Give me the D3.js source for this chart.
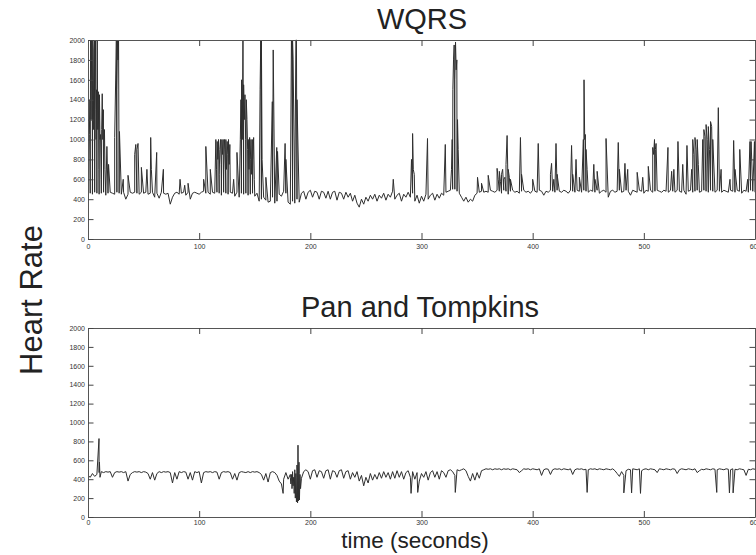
<!DOCTYPE html>
<html>
<head>
<meta charset="utf-8">
<script src="https://cdn.jsdelivr.net/npm/d3@7"></script>
<style>
  html, body { margin: 0; padding: 0; background: #fff; }
  svg { display: block; }
  .tick text { font-family: "Liberation Sans", Arial, sans-serif; font-size: 7px; fill: #333; }
  .tick line { stroke: #444; }
  .domain { stroke: #555; }
</style>
</head>
<body>
<svg id="chart" width="756" height="555"></svg>
<script>
// ---------------- DATA ----------------
const xTicks = [0, 100, 200, 300, 400, 500, 600];
const yTicks = [0, 200, 400, 600, 800, 1000, 1200, 1400, 1600, 1800, 2000];
const baseStep = 2; // seconds between baseline readings

// WQRS baseline heart-rate readings every 2 s (t = 0 .. 600)
const wqrsBase = [
430,460,450,470,460,450,460,470,440,460,470,460,450,470,460,450,470,400,450,470,
460,470,460,450,470,460,470,450,460,470,420,460,410,470,460,450,460,350,420,460,
470,450,460,470,440,470,400,460,470,460,450,470,480,460,470,450,470,460,470,460,
440,470,460,450,470,460,430,470,420,460,450,460,440,450,460,430,460,380,400,420,
390,370,380,420,360,380,450,430,480,460,370,350,380,360,400,370,
460,480,400,470,490,420,480,470,400,480,470,410,480,400,470,480,390,470,460,400,
470,420,460,380,440,360,320,400,350,420,380,440,400,450,380,440,410,460,390,450,
420,480,400,440,460,380,450,420,470,420,460,380,440,360,
430,380,450,400,440,460,390,450,410,460,440,470,480,490,500,500,480,460,420,380,
420,370,400,380,440,460,
470,480,470,480,470,490,480,470,490,480,460,490,480,450,480,490,470,480,460,480,
490,470,480,460,490,480,470,490,480,440,480,470,490,480,470,490,480,470,490,480,
460,490,480,470,490,480,470,490,480,470,490,480,470,490,460,480,490,470,420,480,
490,470,480,490,470,480,490,480,440,490,480,470,490,480,460,490,480,490,470,480,
490,480,470,490,480,470,490,480,470,490,480,470,490,450,480,490,470,480,490,470,
480,490,480,470,490,480,470,490,480,470,490,480,470,490,480,470,490,480,460,490,
480,470,490,480,470
];

// WQRS spurious detections: [time (s), heart rate]
const wqrsSpikes = [
[0.5,900],[1,1400],[1.5,1050],[2.3,2000],[2.8,1200],[3.3,2000],[3.8,1500],[4.3,2000],[4.8,1100],
[5.3,1900],[5.8,2000],[6.3,1300],[6.8,2000],[7.3,1000],[7.8,1500],[8.3,2000],[8.8,1100],[9.3,1480],
[9.8,700],[10.3,1450],[10.8,1000],[11.3,1050],[11.8,600],[12.3,1100],[12.8,1460],[13.3,1000],
[13.8,1300],[14.3,900],[14.8,1100],[15.3,700],[17,930],[18.5,750],[24,1020],[25.5,2000],[26,1500],
[26.5,2000],[27,1800],[27.5,2000],[28.3,1080],[31.7,600],[36,640],[42,850],[43,950],[44,900],[45,960],
[48,720],[53,700],[56.4,1020],[57,700],[61.8,870],[67.8,700],[82.8,600],[87,540],[90,560],[104,600],
[106,930],[110,700],
[115,1000],[115.6,700],[116.2,980],[116.8,800],[117.4,1000],[118,650],[118.6,900],[119.2,1000],
[119.8,750],[120.4,1000],[121,850],[121.6,1000],[122.2,700],[122.8,1000],[123.4,900],[124,1000],
[124.6,700],[125.2,980],[125.8,850],[126.4,1000],[127,750],[127.6,950],[131,600],[134,870],
[137,1000],[137.6,1400],[138.2,1600],[138.8,1000],[139.4,2000],[140,1550],[140.6,1200],[141.2,1450],
[141.8,1000],[142.4,1400],[143,1200],[143.6,900],[144.2,1000],[144.8,700],[145.4,1020],[146,800],
[146.6,1000],[147.2,650],[147.8,1000],[148.4,800],[149,1020],[149.6,600],
[154.8,1500],[155.4,2000],[156,2000],[156.6,800],[160,620],[165.8,1380],[166.6,1900],[169.8,920],
[170.5,880],[177.3,960],[178,800],[183,2000],[183.5,1800],[184,2000],[184.5,1800],[187,2000],
[187.5,2000],[188,1400],
[274.6,600],[291,800],[292,1060],[292.6,700],[293.5,650],[305.4,1010],[321.4,950],
[327,700],[327.6,1000],[328.2,1500],[328.8,1800],[329.4,1950],[330,1600],[330.6,1980],[331.2,1700],
[331.8,1800],[332.4,1200],[333,900],
[350.4,620],[354,560],[360,640],
[368,710],[369,600],[370,680],[371,580],[372,650],[373,700],[374,600],[375,620],[376,750],[377,1040],
[378,700],[379,620],[380,600],
[389,1020],[390,650],[400,600],[405,960],[416,650],[417,760],[419,600],[421,960],[422,650],[435,940],
[436,650],[439,800],[442,620],
[445.6,1000],[446.2,1600],[446.8,1000],[447.4,1050],[448,900],[449,700],
[455,750],[456,600],[458,680],[466,1010],[477,970],[478,700],[483,760],[485.5,700],[494,670],[499,620],
[504,730],[508,920],[508.8,850],[509.6,1000],[510.4,900],[511,960],
[521.7,920],[525,680],[527,700],[530.7,980],[535,750],[538.8,940],
[543,700],[544,1000],[545,850],[546,1020],[547,900],[548,1000],[549,750],
[553,1000],[554,1100],[555,1030],[556,1150],[557,1000],[558,1130],[559,900],[560,1180],[561,1130],
[562,1000],[567,1320],[569.5,700],[577.5,600],[580.8,990],[582,700],[586.3,900],[593.4,600],
[595.5,980],[596,780],[596.5,980],[599.5,980]
];

// Pan and Tompkins baseline readings every 2 s (t = 0 .. 600)
const ptBase = [
440,420,460,430,450,470,480,470,480,475,480,420,470,480,475,480,470,480,380,450,
470,480,475,480,470,480,475,460,400,470,390,460,480,470,480,475,480,470,360,470,
400,480,470,480,475,400,470,390,480,470,480,360,470,480,475,480,470,480,475,400,
470,480,475,480,470,400,460,390,470,480,475,470,480,470,480,475,480,470,450,390,
460,370,470,480,470,440,380,350,400,470,400,450,380,470,420,460,
410,480,500,480,400,490,500,420,490,480,410,490,500,400,490,480,420,490,500,410,
480,490,400,470,420,480,380,440,330,420,360,460,390,450,400,470,410,480,420,470,
400,480,410,490,420,480,400,470,490,420,480,400,470,380,
460,420,480,390,470,490,420,480,400,490,470,420,490,500,480,440,500,490,500,510,
490,430,380,460,390,470,
410,490,500,510,505,510,500,510,505,510,500,510,505,510,500,510,505,500,470,490,
510,505,510,500,510,505,500,510,440,500,510,505,450,500,510,505,510,500,510,505,
500,510,450,500,510,505,510,500,505,500,510,505,510,500,510,505,500,510,505,500,
510,490,460,430,480,440,490,505,500,510,505,500,510,490,505,510,500,510,505,500,
470,510,505,500,510,505,500,510,505,460,500,510,505,500,510,505,500,510,470,490,
505,500,510,505,500,510,505,500,510,505,500,510,505,500,510,505,500,510,505,500,
440,505,500,510,505
];

// Pan and Tompkins outliers: [time (s), heart rate]
const ptSpikes = [
[9.9,830],[10.3,580],[10.8,420],[175.5,250],
[182,420],[182.5,350],[183,450],[183.5,300],[184,480],[184.5,330],[185,420],[185.5,250],[186,500],
[186.5,200],[187,460],[187.5,160],[188,550],[188.5,150],[188.9,760],[189.3,170],[189.8,580],
[190.2,180],[190.7,450],[191.2,300],
[290.6,250],[296.6,260],[330.4,260],[449,260],[482,255],[489,255],[497,250],[565.6,260],[577,255],
[580.3,255]
];

const titles = ["WQRS", "Pan and Tompkins"];
const yLabel = "Heart Rate";
const xLabel = "time (seconds)";

// ---------------- BUILD SERIES ----------------
function buildSeries(base, spikes) {
  const pts = base.map((v, i) => ({ t: i * baseStep, v }));
  spikes.forEach(([t, v]) => pts.push({ t, v }));
  pts.sort((a, b) => a.t - b.t);
  return pts;
}
const seriesList = [buildSeries(wqrsBase, wqrsSpikes), buildSeries(ptBase, ptSpikes)];

// ---------------- DRAW ----------------
const svg = d3.select("#chart");
const panels = [
  { top: 40, bottom: 239, titleY: 29, titleX: 422, xPad: 5 },
  { top: 328, bottom: 517, titleY: 317, titleX: 420, xPad: 3 }
];
const left = 88, right = 755;
const x = d3.scaleLinear().domain([0, 600]).range([left, right]);

panels.forEach((p, i) => {
  const y = d3.scaleLinear().domain([0, 2000]).range([p.bottom, p.top]);
  const g = svg.append("g");

  const clipId = "clip" + i;
  svg.append("clipPath").attr("id", clipId)
    .append("rect").attr("x", left).attr("y", p.top - 1)
    .attr("width", right - left).attr("height", p.bottom - p.top + 2);

  g.append("path")
    .datum(seriesList[i])
    .attr("clip-path", `url(#${clipId})`)
    .attr("fill", "none")
    .attr("stroke", "#2e2e2e")
    .attr("stroke-width", 1)
    .attr("stroke-linejoin", "round")
    .attr("d", d3.line().x(d => x(d.t)).y(d => y(d.v)));

  g.append("g").attr("transform", `translate(0,${p.bottom})`)
    .call(d3.axisBottom(x).tickValues(xTicks).tickSize(-6).tickSizeOuter(0).tickPadding(p.xPad).tickFormat(d3.format("d")));
  g.append("g").attr("transform", `translate(0,${p.top})`)
    .call(d3.axisTop(x).tickValues(xTicks).tickSize(-6).tickSizeOuter(0).tickFormat(""));
  g.append("g").attr("transform", `translate(${left},0)`)
    .call(d3.axisLeft(y).tickValues(yTicks).tickSize(-5.5).tickSizeOuter(0).tickPadding(3).tickFormat(d3.format("d")));
  g.append("g").attr("transform", `translate(${right},0)`)
    .call(d3.axisRight(y).tickValues(yTicks).tickSize(-5.5).tickSizeOuter(0).tickFormat(""));

  svg.append("text")
    .attr("x", p.titleX).attr("y", p.titleY)
    .attr("text-anchor", "middle")
    .attr("font-family", "Liberation Sans, Arial, sans-serif")
    .attr("font-size", 29).attr("fill", "#222")
    .text(titles[i]);
});

svg.append("text")
  .attr("transform", "translate(42,300) rotate(-90)")
  .attr("text-anchor", "middle")
  .attr("font-family", "Liberation Sans, Arial, sans-serif")
  .attr("font-size", 31).attr("fill", "#222")
  .text(yLabel);

svg.append("text")
  .attr("x", 415).attr("y", 547.5)
  .attr("text-anchor", "middle")
  .attr("font-family", "Liberation Sans, Arial, sans-serif")
  .attr("font-size", 22.5).attr("fill", "#222")
  .text(xLabel);
</script>
</body>
</html>
